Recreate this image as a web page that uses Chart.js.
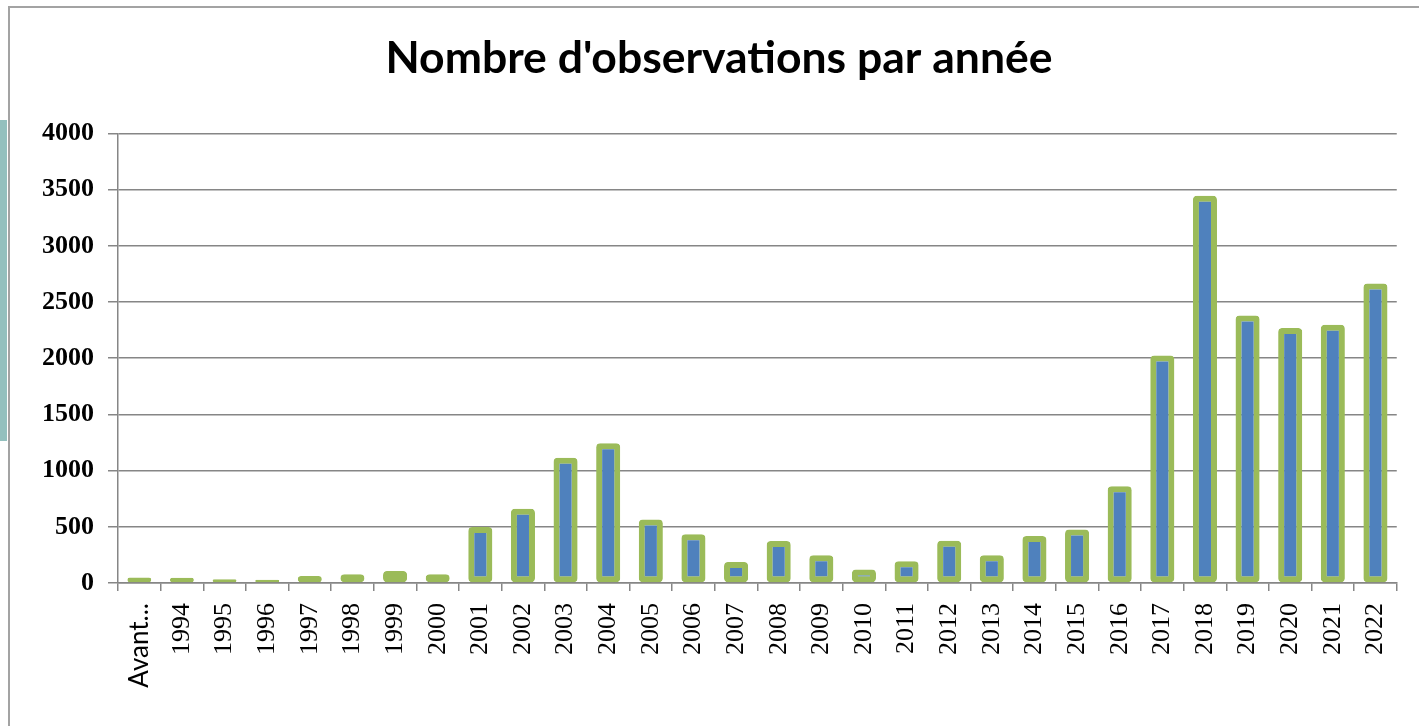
<!DOCTYPE html>
<html>
<head>
<meta charset="utf-8">
<script src="https://cdn.jsdelivr.net/npm/chart.js@4/dist/chart.umd.min.js"></script>
<style>
  html, body { margin: 0; padding: 0; background: #ffffff; overflow: hidden; }
  #wrap { position: relative; width: 1419px; height: 726px; overflow: hidden; }
  #frame { position: absolute; left: 8px; top: 6px; width: 1440px; height: 760px; border: 2px solid #a3a3a3; box-sizing: border-box; }
  #tab { position: absolute; left: 0; top: 120px; width: 7px; height: 321px; background: #93c0be; }
  canvas { position: absolute; left: 0; top: 0; }
</style>
</head>
<body>
<div id="wrap">
  <div id="frame"></div>
  <div id="tab"></div>
  <canvas id="c" width="1419" height="726"></canvas>
</div>
<script>
const categories = ["Avant...", "1994", "1995", "1996", "1997", "1998", "1999", "2000",
  "2001", "2002", "2003", "2004", "2005", "2006", "2007", "2008", "2009", "2010",
  "2011", "2012", "2013", "2014", "2015", "2016", "2017", "2018", "2019", "2020",
  "2021", "2022"];
const observations = [48, 46, 33, 30, 62, 77, 107, 77,
  498, 661, 1115, 1244, 564, 433, 187, 373, 246, 119,
  193, 377, 246, 418, 475, 860, 2024, 3446, 2380, 2269,
  2297, 2664];
const yTicks = [0, 500, 1000, 1500, 2000, 2500, 3000, 3500, 4000];
const titleText = "Nombre d'observations par année";

new Chart(document.getElementById('c'), {
  type: 'bar',
  data: {
    labels: categories,
    datasets: [{
      data: observations,
      backgroundColor: '#4f81bd',
      borderColor: '#9bbb59',
      borderWidth: 6,
      borderRadius: 4,
      borderSkipped: false,
      categoryPercentage: 1.0,
      barPercentage: 0.565
    }]
  },
  options: {
    responsive: false,
    animation: false,
    layout: { padding: { left: 40, right: 21, top: 0, bottom: 0 } },
    plugins: {
      legend: { display: false },
      tooltip: { enabled: false },
      title: {
        display: true,
        text: titleText,
        color: '#000000',
        font: { family: 'Lato', size: 44.5, weight: 'bold', lineHeight: 1.2 },
        padding: { top: 32, bottom: 48 }
      }
    },
    scales: {
      x: {
        grid: { drawOnChartArea: false, drawTicks: true, tickLength: 8, color: '#868686', lineWidth: 1.5, offset: true },
        border: { color: '#868686', width: 1.5 },
        ticks: {
          color: '#000000',
          minRotation: 90, maxRotation: 90,
          autoSkip: false,
          padding: 12,
          font: (ctx) => ctx.index === 0
            ? { family: 'Lato', size: 26 }
            : { family: 'Liberation Serif', size: 26 }
        },
        afterFit: (scale) => { scale.height = 143; }
      },
      y: {
        min: 0, max: 4000,
        afterBuildTicks: (scale) => { scale.ticks = yTicks.map(v => ({ value: v })); },
        grid: { color: '#868686', lineWidth: 1.5, tickLength: 10 },
        border: { color: '#868686', width: 1.5 },
        ticks: {
          color: '#000000',
          padding: 14,
          font: { family: 'Liberation Serif', size: 26, weight: 'bold' },
          callback: (value) => String(value)
        },
        afterFit: (scale) => { scale.width = 78; }
      }
    }
  }
});
</script>
</body>
</html>
